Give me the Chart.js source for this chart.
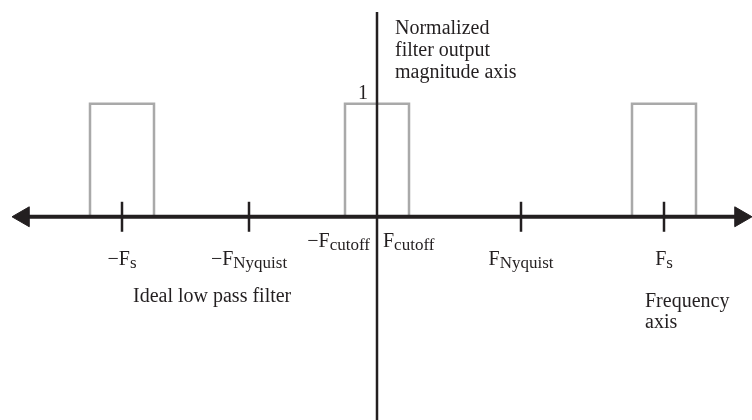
<!DOCTYPE html>
<html>
<head>
<meta charset="utf-8">
<script src="https://cdn.jsdelivr.net/npm/chart.js@4/dist/chart.umd.min.js"></script>
<style>
  html, body { margin: 0; padding: 0; background: #fff; }
  canvas { display: block; }
</style>
</head>
<body>
<canvas id="myChart" width="752" height="420"></canvas>
<script>
// frequency positions of the marked ticks and their names (main letter + subscript)
const tickFreqs = [-255, -128, 144, 287];
const tickNames = [['\u2212F', 's'], ['\u2212F', 'Nyquist'], ['F', 'Nyquist'], ['F', 's']];
const cutoffNames = [['\u2212F', 'cutoff'], ['F', 'cutoff']];

// ideal low pass response: passband and its images at -Fs and Fs
const passCentres = [-255, 0, 287];
const cutoff = 32;
const gain = 1;

const xMin = -377, xMax = 375;
const yMin = -1.8, yMax = 1.92;
const axisTop = 1.814;
const arrowTips = [-353.5, 363.5];

const ink = '#231f20';
const grey = '#a9a9a9';
const mainFont = '20px "Liberation Serif", "Times New Roman", serif';
const subFont = '17px "Liberation Serif", "Times New Roman", serif';

function passband(c) {
  return [
    { x: c - cutoff, y: 0 },
    { x: c - cutoff, y: gain },
    { x: c + cutoff, y: gain },
    { x: c + cutoff, y: 0 }
  ];
}

const rectSets = passCentres.map(c => ({
  data: passband(c),
  showLine: true,
  borderColor: grey,
  borderWidth: 2.5,
  pointRadius: 0,
  order: 5
}));

// draws a main string followed by a lowered, smaller subscript
function drawSub(ctx, parts, x, base, align) {
  ctx.font = mainFont;
  const wMain = ctx.measureText(parts[0]).width;
  ctx.font = subFont;
  const wSub = ctx.measureText(parts[1]).width;
  const total = wMain + wSub;
  let left = x;
  if (align === 'center') left = x - total / 2;
  if (align === 'right') left = x - total;
  ctx.textAlign = 'left';
  ctx.textBaseline = 'alphabetic';
  ctx.font = mainFont;
  ctx.fillText(parts[0], left, base);
  ctx.font = subFont;
  ctx.fillText(parts[1], left + wMain, base + 3);
}

const labelPlugin = {
  id: 'axisLabels',
  afterDatasetsDraw(chart) {
    const { ctx, scales: { x, y } } = chart;
    const x0 = x.getPixelForValue(0);
    const y0 = y.getPixelForValue(0);
    ctx.save();
    ctx.fillStyle = ink;

    tickFreqs.forEach((f, i) => {
      drawSub(ctx, tickNames[i], x.getPixelForValue(f), y0 + 48, 'center');
    });
    drawSub(ctx, cutoffNames[0], x0 - 7, y0 + 30, 'right');
    drawSub(ctx, cutoffNames[1], x0 + 6, y0 + 30, 'left');

    ctx.font = mainFont;
    ctx.textAlign = 'right';
    ctx.fillText(String(gain), x0 - 9, y.getPixelForValue(gain) - 5);

    ctx.textAlign = 'left';
    ['Normalized', 'filter output', 'magnitude axis'].forEach((t, i) => {
      ctx.fillText(t, x0 + 18, 34 + i * 22);
    });
    ctx.fillText('Ideal low pass filter', 133, 302);
    ctx.fillText('Frequency', 645, 307);
    ctx.fillText('axis', 645, 328);
    ctx.restore();
  }
};

const ctx = document.getElementById('myChart').getContext('2d');
const myChart = new Chart(ctx, {
  type: 'scatter',
  data: {
    datasets: [
      ...rectSets,
      {
        // frequency axis
        data: [{ x: arrowTips[0], y: 0 }, { x: arrowTips[1], y: 0 }],
        showLine: true,
        borderColor: ink,
        borderWidth: 4,
        pointRadius: 0,
        order: 4
      },
      {
        // arrow heads
        data: [{ x: arrowTips[0], y: 0 }, { x: arrowTips[1], y: 0 }],
        pointStyle: 'triangle',
        rotation: [-90, 90],
        pointRadius: 11.5,
        backgroundColor: ink,
        borderColor: ink,
        borderWidth: 1,
        order: 3
      },
      {
        // tick marks
        data: tickFreqs.map(f => ({ x: f, y: 0 })),
        pointStyle: 'line',
        rotation: 90,
        pointRadius: 15,
        borderColor: ink,
        borderWidth: 2.5,
        order: 2
      },
      {
        // magnitude axis
        data: [{ x: 0, y: axisTop }, { x: 0, y: yMin }],
        showLine: true,
        borderColor: ink,
        borderWidth: 2.5,
        pointRadius: 0,
        order: 1
      }
    ]
  },
  options: {
    responsive: false,
    animation: false,
    layout: { padding: 0, autoPadding: false },
    plugins: {
      legend: { display: false },
      tooltip: { enabled: false }
    },
    scales: {
      x: { type: 'linear', min: xMin, max: xMax, display: false },
      y: { type: 'linear', min: yMin, max: yMax, display: false }
    },
    elements: { line: { tension: 0 } }
  },
  plugins: [labelPlugin]
});
</script>
</body>
</html>
